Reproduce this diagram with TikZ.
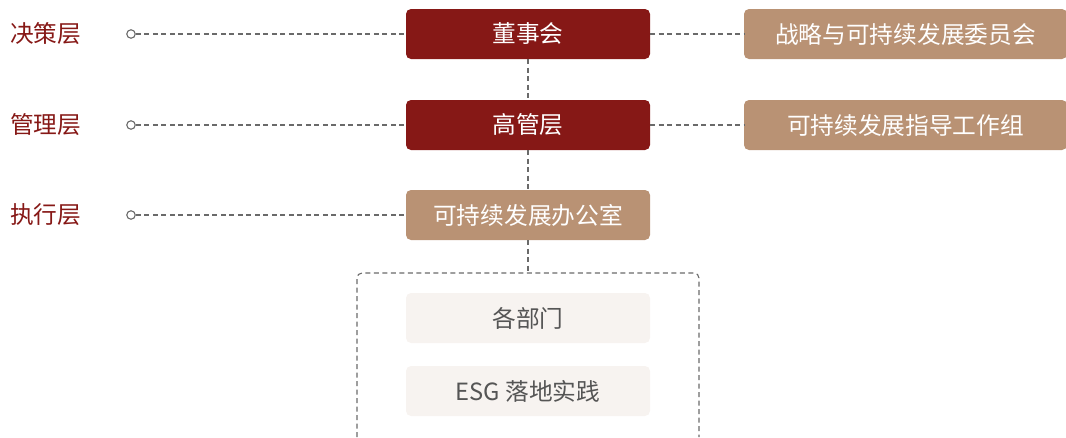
\documentclass[tikz,border=0pt]{standalone}
\usepackage{fontspec}
\setmainfont{Noto Sans CJK SC}
\definecolor{deepred}{HTML}{861816}
\definecolor{tan}{HTML}{B99274}
\definecolor{lightbox}{HTML}{F7F3F0}
\definecolor{linegray}{HTML}{6A6A6A}
\definecolor{textgray}{HTML}{555555}
\begin{document}
\begin{tikzpicture}[x=1pt,y=-1pt,
  font=\fontsize{23.7}{28}\selectfont,
  box/.style={rounded corners=5pt, minimum height=50pt, inner sep=0pt, text=white},
  redbox/.style={box, fill=deepred, minimum width=244pt},
  tanbox/.style={box, fill=tan},
  litbox/.style={box, fill=lightbox, text=textgray, minimum width=244pt},
  lbl/.style={anchor=west, text=deepred, inner sep=0pt},
  dot/.style={circle, draw=linegray, fill=white, line width=1.1pt, minimum size=8.5pt, inner sep=0pt},
  dline/.style={draw=linegray, line width=1.1pt, dash pattern=on 5pt off 3.5pt}
]
\useasboundingbox (0,0) rectangle (1066,437);
% left labels
\node[lbl] (l1) at (10,34) {决策层};
\node[lbl] (l2) at (10,125) {管理层};
\node[lbl] (l3) at (10,215) {执行层};
% dots
\node[dot] (c1) at (131,34) {};
\node[dot] (c2) at (131,125) {};
\node[dot] (c3) at (131,215) {};
% container
\coordinate (ctop) at (528,273);
\draw[dline, rounded corners=5pt] (357,437) -- (357,273) -- (699,273) -- (699,437);
% main boxes
\node[redbox] (b1) at (528,34) {董事会};
\node[redbox] (b2) at (528,125) {高管层};
\node[tanbox, minimum width=244pt] (b3) at (528,215) {可持续发展办公室};
\node[tanbox, minimum width=323pt] (r1) at (905.5,34) {战略与可持续发展委员会};
\node[tanbox, minimum width=323pt] (r2) at (905.5,125) {可持续发展指导工作组};
\node[litbox] (d1) at (528,318) {各部门};
\node[litbox] (d2) at (528,391) {ESG 落地实践};
% connectors
\draw[dline] (c1.east) -- (b1.west);
\draw[dline] (c2.east) -- (b2.west);
\draw[dline] (c3.east) -- (b3.west);
\draw[dline] (b1.east) -- (r1.west);
\draw[dline] (b2.east) -- (r2.west);
\draw[dline] (b1.south) -- (b2.north);
\draw[dline] (b2.south) -- (b3.north);
\draw[dline] (b3.south) -- (ctop);
\end{tikzpicture}
\end{document}
